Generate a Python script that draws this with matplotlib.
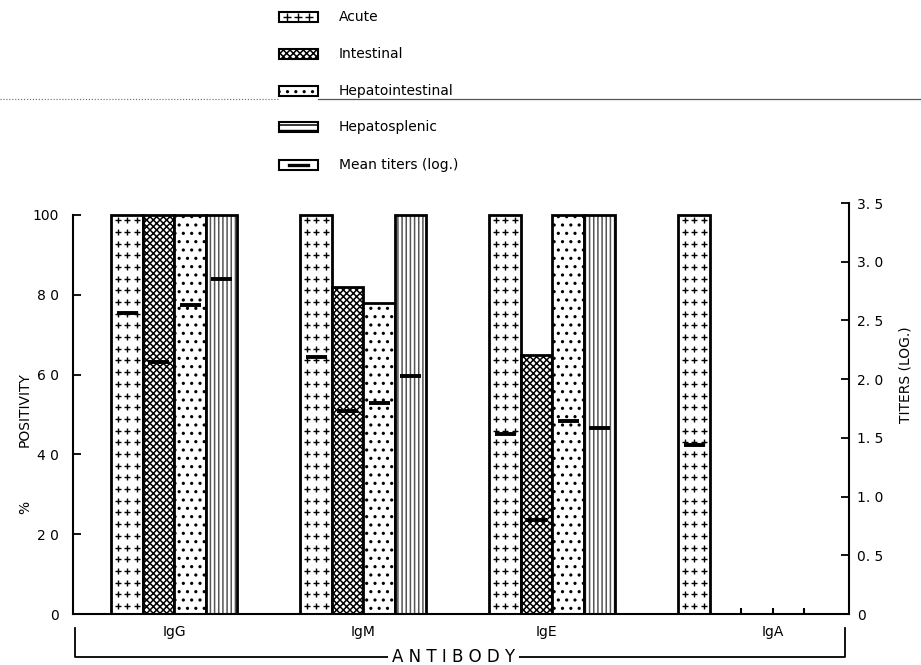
import numpy as np
import matplotlib.pyplot as plt
from matplotlib.patches import Rectangle
from matplotlib.lines import Line2D

# Data
antibodies = ["IgG", "IgM", "IgE", "IgA"]
forms = ["Acute", "Intestinal", "Hepatointestinal", "Hepatosplenic"]

# % positivity, one value per antibody
acute = [100, 100, 100, 100]
intestinal = [100, 82, 65, 0]
hepatointestinal = [100, 78, 100, 0]
hepatosplenic = [100, 100, 100, 0]

# mean titers (log.), None = not shown
titer_acute = [2.56, 2.19, 1.53, 1.44]
titer_intestinal = [2.15, 1.73, 0.80, None]
titer_hepatointestinal = [2.63, 1.80, 1.64, None]
titer_hepatosplenic = [2.85, 2.03, 1.58, None]

left_ticks = [0, 20, 40, 60, 80, 100]
left_labels = ["0", "2 0", "4 0", "6 0", "8 0", "100"]
right_ticks = [0, 0.5, 1.0, 1.5, 2.0, 2.5, 3.0, 3.5]
right_labels = ["0", "0. 5", "1. 0", "1. 5", "2. 0", "2. 5", "3. 0", "3. 5"]

positivity = [acute, intestinal, hepatointestinal, hepatosplenic]
titers = [titer_acute, titer_intestinal, titer_hepatointestinal, titer_hepatosplenic]

plt.rcParams['font.family'] = 'DejaVu Sans'
plt.rcParams['hatch.linewidth'] = 1.1

W, H = 921, 665
fig = plt.figure(figsize=(W / 100, H / 100), dpi=100)
ax = fig.add_axes([73 / W, 1 - 614 / H, 776 / W, 411 / H])
ax2 = ax.twinx()

bar_w = 1.0
group_start = 1.22
group_step = 6.0
ax.set_xlim(0, 776 / 31.5)
ax.set_ylim(0, 103.0)
ax2.set_ylim(0, 3.5)

hatches = [None, 'xxxxx', '..', '||||']
zero_edges = []
for j, (vals, tvals) in enumerate(zip(positivity, titers)):
    for i, v in enumerate(vals):
        x0 = group_start + group_step * i + j * bar_w
        xc = x0 + bar_w / 2
        if v == 0:
            zero_edges.append(x0 + bar_w)
            continue
        if j == 3:
            # grey striped fill, black outline on top
            ax.bar(xc, v, width=bar_w, color='white', edgecolor='#555555',
                   hatch=hatches[j], linewidth=0, zorder=2)
            ax.bar(xc, v, width=bar_w, fill=False, edgecolor='black',
                   linewidth=2, zorder=3)
        else:
            ax.bar(xc, v, width=bar_w, color='white', edgecolor='black',
                   hatch=hatches[j], linewidth=2, zorder=2)
        if j == 0:
            # plus signs for the acute pattern
            ys = np.arange(2.0, v - 1.0, 2.93)
            for fx in (0.2, 0.5, 0.8):
                ax.plot(np.full(len(ys), x0 + fx * bar_w), ys, ls='none',
                        marker='+', ms=5, mew=1.0, color='black', zorder=3)
        t = tvals[i]
        if t is not None:
            ax2.hlines(t, xc - 0.33, xc + 0.33, color='black', lw=2.8, zorder=5)

# little marks where empty bars would be
ax.vlines(zero_edges, 0, 1.6, color='black', lw=1.5, zorder=3)

# axes styling
for a in (ax, ax2):
    a.spines['top'].set_visible(False)
ax.spines['right'].set_visible(False)
ax2.spines['left'].set_visible(False)
ax2.spines['bottom'].set_visible(False)
ax.spines['left'].set_bounds(0, 100)
ax2.spines['right'].set_bounds(0, 3.5)
for s in ('left', 'bottom'):
    ax.spines[s].set_linewidth(1.5)
ax2.spines['right'].set_linewidth(1.5)

ax.set_yticks(left_ticks)
ax.set_yticklabels(left_labels)
ax.tick_params(axis='y', direction='in', length=6, width=1.3, pad=10, labelsize=10)
ax.set_xticks([])
ax2.set_yticks(right_ticks)
ax2.set_yticklabels(right_labels)
ax2.tick_params(axis='y', direction='in', length=6, width=1.3, pad=6, labelsize=10)

# category labels and the bracket below
label_shift = [0, 0, -0.2, 1.0]
for i, name in enumerate(antibodies):
    gx = group_start + group_step * i + 2 * bar_w + label_shift[i]
    ax.text(gx, -0.045, name, transform=ax.get_xaxis_transform(),
            ha='center', va='center', fontsize=10)
yb = -0.105
ax.plot([0.003, 0.003, 0.995, 0.995], [-0.034, yb, yb, -0.034],
        transform=ax.transAxes, color='black', lw=1.3, clip_on=False)
ax.text(0.49, yb, "A N T I B O D Y", transform=ax.transAxes, ha='center',
        va='center', fontsize=12,
        bbox=dict(facecolor='white', edgecolor='none', pad=3))

fig.text(25 / W, 1 - 410 / H, "POSITIVITY", rotation=90, ha='center',
         va='center', fontsize=10)
fig.text(25 / W, 1 - 507 / H, "%", rotation=90, ha='center', va='center',
         fontsize=10)
fig.text(905 / W, 1 - 375 / H, "TITERS (LOG.)", rotation=90, ha='center',
         va='center', fontsize=10)

# legend drawn at the top
leg_y = [17, 54, 91, 127, 165]
leg_names = forms + ["Mean titers (log.)"]
leg_hatch = [None, 'xxxxx', '..', '---', None]
for k, (yy, name) in enumerate(zip(leg_y, leg_names)):
    fig.add_artist(Rectangle((279 / W, 1 - (yy + 5) / H), 39 / W, 10 / H,
                             facecolor='white', edgecolor='black', lw=1.5,
                             hatch=leg_hatch[k]))
    if k == 0:
        fig.add_artist(Line2D(np.array([287, 298, 309]) / W,
                              [1 - yy / H] * 3, ls='none', marker='+',
                              ms=6, mew=1, color='black'))
    if k == 4:
        fig.add_artist(Line2D([289 / W, 308 / W], [1 - yy / H] * 2,
                              color='black', lw=2.4))
    fig.text(339 / W, 1 - yy / H, name, ha='left', va='center', fontsize=10)

# stray scan rule across the page
fig.add_artist(Line2D([0, 278 / W], [1 - 99 / H] * 2, color='#666666',
                      lw=0.8, ls=':'))
fig.add_artist(Line2D([318 / W, 1], [1 - 99 / H] * 2, color='#555555', lw=0.9))

fig.savefig('out.png', dpi=100)
